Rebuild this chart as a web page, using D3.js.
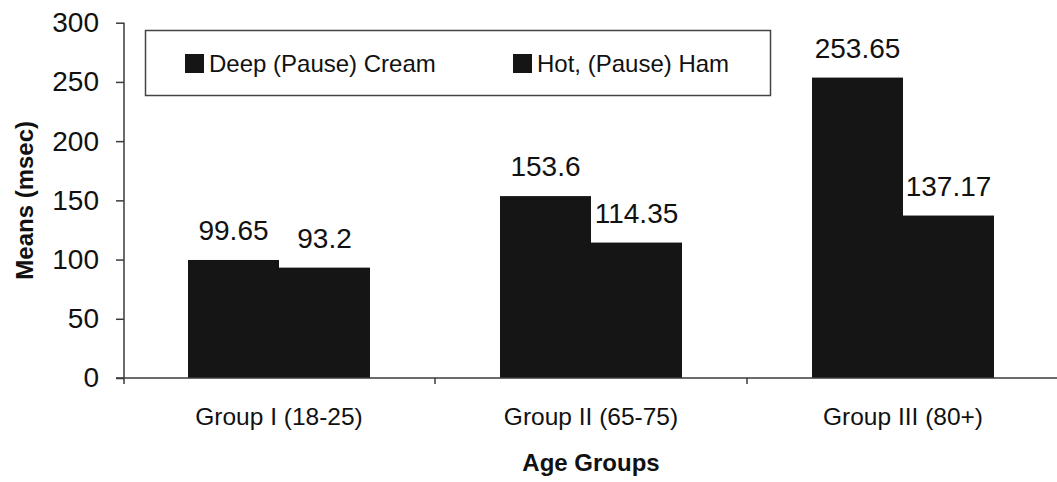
<!DOCTYPE html>
<html>
<head>
<meta charset="utf-8">
<script src="https://cdn.jsdelivr.net/npm/d3@7/dist/d3.min.js"></script>
<style>
  html, body { margin: 0; padding: 0; background: #fff; }
  svg { display: block; font-family: "Liberation Sans", Arial, sans-serif; }
</style>
</head>
<body>
<svg id="chart" width="1057" height="482"></svg>
<script>
// Mean pause durations (msec) by age group
const groups = ["Group I (18-25)", "Group II (65-75)", "Group III (80+)"];
const seriesNames = ["Deep (Pause) Cream", "Hot, (Pause) Ham"];
const deepCream = [99.65, 153.6, 253.65];
const hotHam = [93.2, 114.35, 137.17];
const yTicks = [0, 50, 100, 150, 200, 250, 300];

const rows = groups.map((g, i) => ({ group: g, values: [deepCream[i], hotHam[i]] }));

const svg = d3.select("#chart");
const barColor = "#151515";
const axisColor = "#3a3a3a";

const y = d3.scaleLinear().domain([0, 300]).range([378, 22.7]);
const x0 = d3.scaleBand().domain(groups).range([123, 1059])
  .paddingInner(130 / 312).paddingOuter(65 / 312);
const x1 = d3.scaleBand().domain(seriesNames).range([0, x0.bandwidth()]);

// bars
const g = svg.append("g");
const grp = g.selectAll("g.grp").data(rows).join("g")
  .attr("class", "grp")
  .attr("transform", d => `translate(${x0(d.group)},0)`);

grp.selectAll("rect").data(d => d.values.map((v, k) => ({ s: seriesNames[k], v })))
  .join("rect")
  .attr("x", d => x1(d.s))
  .attr("width", x1.bandwidth())
  .attr("y", d => y(d.v))
  .attr("height", d => y(0) - y(d.v))
  .attr("fill", barColor);

// value labels
grp.selectAll("text.val").data(d => d.values.map((v, k) => ({ s: seriesNames[k], v })))
  .join("text")
  .attr("class", "val")
  .attr("x", d => x1(d.s) + x1.bandwidth() / 2)
  .attr("y", d => y(d.v) - 20)
  .attr("text-anchor", "middle")
  .attr("font-size", 28)
  .attr("fill", "#111")
  .text(d => d.v);

// y axis
const yAxis = svg.append("g").attr("transform", "translate(124,0)")
  .call(d3.axisLeft(y).tickValues(yTicks).tickSize(8).tickPadding(17).tickFormat(d3.format("d")));
yAxis.select(".domain").attr("d", `M0,${y(300)}V${y(0) + 6}`).attr("stroke", axisColor).attr("stroke-width", 1.5);
yAxis.selectAll(".tick line").attr("stroke", axisColor).attr("stroke-width", 1.5);
yAxis.selectAll(".tick text").attr("font-size", 28).attr("fill", "#111")
  .attr("font-family", "Liberation Sans, Arial, sans-serif");

// x axis: baseline, ticks between categories, centred labels
const xAxis = svg.append("g").attr("transform", `translate(0,${y(0)})`)
  .call(d3.axisBottom(x0).tickSize(0).tickPadding(30));
xAxis.select(".domain").attr("d", `M116,0H1057`).attr("stroke", axisColor).attr("stroke-width", 1.5);
xAxis.selectAll(".tick text").attr("font-size", 24.5).attr("fill", "#111")
  .attr("font-family", "Liberation Sans, Arial, sans-serif");

const bounds = groups.map(gr => x0(gr) - x0.step() * x0.paddingOuter()).slice(1);
xAxis.selectAll("line.sep").data(bounds).join("line")
  .attr("class", "sep")
  .attr("x1", d => d).attr("x2", d => d)
  .attr("y1", 0).attr("y2", 6)
  .attr("stroke", axisColor).attr("stroke-width", 1.5);

// axis titles
svg.append("text")
  .attr("transform", `translate(33,${(y(0) + y(300)) / 2}) rotate(-90)`)
  .attr("text-anchor", "middle")
  .attr("font-size", 24).attr("font-weight", "bold").attr("fill", "#111")
  .text("Means (msec)");

svg.append("text")
  .attr("x", x0(groups[1]) + x0.bandwidth() / 2)
  .attr("y", 471)
  .attr("text-anchor", "middle")
  .attr("font-size", 24).attr("font-weight", "bold").attr("fill", "#111")
  .text("Age Groups");

// legend
const legend = svg.append("g");
legend.append("rect")
  .attr("x", 145.5).attr("y", 30.5).attr("width", 625).attr("height", 65)
  .attr("fill", "#fff").attr("stroke", "#444").attr("stroke-width", 1.5);
const legendX = [185, 513];
const items = legend.selectAll("g.item").data(seriesNames).join("g")
  .attr("class", "item")
  .attr("transform", (d, i) => `translate(${legendX[i]},0)`);
items.append("rect").attr("x", 0).attr("y", 54).attr("width", 19).attr("height", 19).attr("fill", barColor);
items.append("text").attr("x", 24).attr("y", 72)
  .attr("font-size", 24).attr("fill", "#111")
  .text(d => d);
</script>
</body>
</html>
